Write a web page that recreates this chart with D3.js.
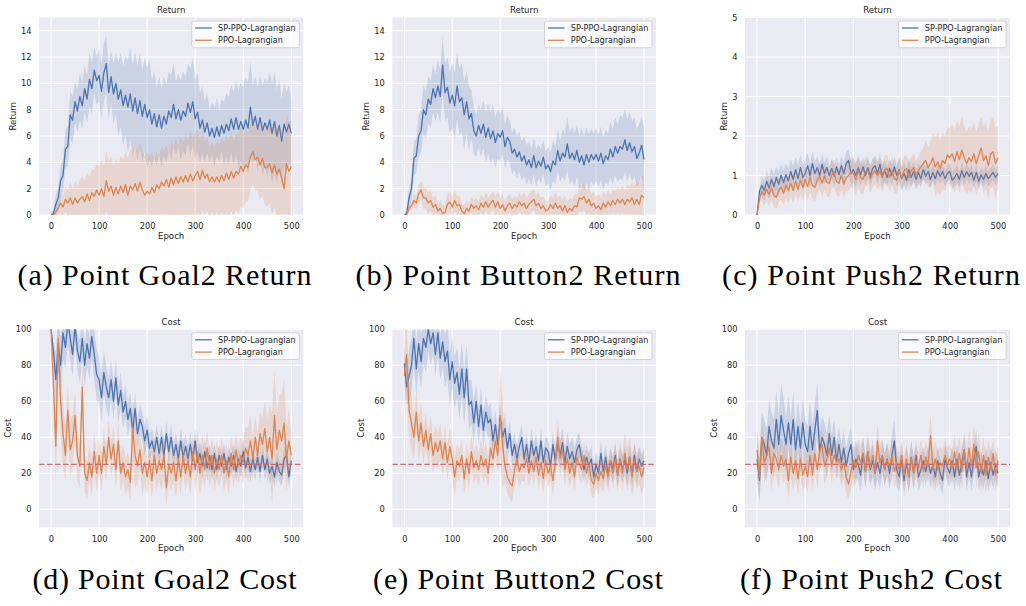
<!DOCTYPE html>
<html>
<head>
<meta charset="utf-8">
<script src="https://cdnjs.cloudflare.com/ajax/libs/d3/7.8.5/d3.min.js"></script>
<style>
  body { margin: 0; background: #fff; }
  svg { display: block; }
  .chart text { font-family: "DejaVu Sans", sans-serif; fill: #262626; }
</style>
</head>
<body>
<div class="chart"></div>
<script>
// Epoch grid (every 5 epochs) and ticks
var epochs = d3.range(0, 501, 5);
var xTicks = [0, 100, 200, 300, 400, 500];
var returnTicks = [0, 2, 4, 6, 8, 10, 12, 14];
var push2ReturnTicks = [0, 1, 2, 3, 4, 5];
var costTicks = [0, 20, 40, 60, 80, 100];
var costLimit = 25;
var seriesNames = ["SP-PPO-Lagrangian", "PPO-Lagrangian"];

// Means are read every 5 epochs, band half-widths every 10 epochs

// (a) Point Goal2 Return
var goal2ReturnSp = [0, 0.1, 0.8, 1.3, 2.6, 3.0, 5.0, 5.2, 7.6, 7.2,
  8.6, 7.9, 9.0, 8.3, 9.6, 8.8, 10.3, 9.6, 11.0, 10.2,
  10.6, 9.4, 10.8, 11.5, 9.3, 10.5, 9.2, 10.0, 8.8, 9.5,
  8.3, 9.1, 8.2, 9.2, 7.9, 8.9, 7.7, 8.7, 7.5, 8.4,
  7.4, 8.0, 6.9, 7.7, 6.7, 7.6, 6.6, 7.5, 6.9, 7.9,
  7.4, 8.4, 7.3, 8.0, 7.2, 7.9, 7.5, 8.5, 7.8, 8.6,
  7.3, 7.8, 6.6, 7.2, 6.3, 7.0, 6.0, 6.6, 5.9, 6.7,
  6.0, 6.8, 6.2, 6.9, 6.4, 7.3, 6.5, 7.4, 6.5, 7.1,
  6.5, 7.2, 6.6, 8.2, 6.8, 7.5, 6.5, 7.4, 6.4, 7.0,
  6.5, 7.2, 6.2, 7.1, 6.0, 6.8, 5.6, 6.9, 6.3, 6.9,
  6.2];
var goal2ReturnSpHw = [0.3, 0.8, 1.2, 1.5, 1.8, 1.6, 1.8, 1.8, 2.0, 1.8,
  2.0, 2.2, 2.0, 2.3, 2.8, 3.0, 3.5, 3.5, 3.6, 3.5,
  3.8, 3.3, 3.0, 3.0, 3.0, 3.2, 2.8, 3.0, 3.0, 3.3,
  3.0, 2.6, 2.3, 2.0, 2.2, 2.0, 2.4, 2.6, 2.8, 3.0,
  3.2, 3.5, 3.0, 3.2, 3.4, 3.6, 3.8, 3.5, 3.2, 3.0,
  2.6];
var goal2ReturnPpo = [0, 0, 0.2, 0.5, 0.9, 0.6, 1.2, 0.9, 1.3, 0.8,
  1.3, 0.9, 1.2, 1.4, 1.0, 1.6, 1.1, 1.7, 1.4, 1.9,
  1.5, 2.0, 1.4, 2.6, 1.8, 2.2, 1.5, 2.1, 1.6, 2.2,
  1.7, 2.3, 1.5, 2.2, 1.9, 2.4, 1.8, 2.5, 1.9, 1.5,
  1.8, 1.6, 2.1, 1.7, 2.3, 2.0, 2.5, 2.2, 2.7, 2.1,
  2.8, 2.3, 2.9, 2.4, 2.9, 2.5, 3.0, 2.5, 3.1, 2.6,
  3.0, 3.3, 2.7, 3.4, 2.8, 3.1, 2.5, 2.9, 2.5, 2.9,
  2.5, 3.0, 2.6, 3.2, 2.7, 3.3, 2.8, 3.3, 3.1, 3.7,
  3.3, 3.8, 3.6, 4.4, 4.8, 4.2, 4.4, 3.8, 4.3, 3.6,
  3.6, 3.9, 3.2, 3.8, 3.1, 3.5, 2.8, 2.0, 3.9, 3.3,
  3.7];
var goal2ReturnPpoHw = [0.1, 0.4, 0.8, 1.0, 1.2, 1.3, 1.5, 1.6, 1.8, 2.0,
  2.2, 2.3, 2.3, 2.2, 2.3, 2.5, 2.8, 3.0, 3.0, 3.0,
  2.9, 2.6, 2.5, 2.7, 2.6, 2.8, 2.9, 3.0, 3.2, 3.3,
  3.2, 3.0, 2.8, 2.7, 2.7, 2.8, 2.9, 3.0, 2.9, 3.0,
  2.8, 2.6, 2.4, 2.6, 2.8, 3.0, 3.2, 3.4, 3.6, 3.8,
  3.5];

// (b) Point Button2 Return
var button2ReturnSp = [0, 0.1, 1.3, 2.0, 4.3, 4.5, 6.0, 6.4, 8.0, 7.6,
  8.8, 8.4, 9.6, 8.9, 9.8, 9.0, 11.4, 9.3, 9.7, 8.5,
  9.1, 8.3, 9.8, 8.6, 8.9, 7.6, 8.6, 7.3, 7.7, 6.4,
  6.0, 6.8, 6.2, 6.9, 5.9, 6.6, 5.8, 6.4, 5.5, 6.2,
  5.9, 6.4, 5.2, 5.9, 5.6, 4.7, 5.0, 4.4, 4.8, 4.1,
  4.5, 3.8, 4.2, 3.6, 4.5, 3.6, 4.1, 3.7, 4.4, 3.5,
  3.8, 3.3, 4.1, 3.8, 4.9, 4.1, 4.7, 4.4, 5.4, 4.3,
  4.7, 4.2, 4.9, 4.0, 4.5, 3.8, 4.6, 4.0, 4.6, 4.2,
  4.6, 4.1, 4.7, 3.9, 4.5, 4.2, 5.0, 4.4, 5.2, 4.7,
  5.2, 5.0, 5.7, 4.9, 5.5, 4.8, 5.2, 4.3, 4.7, 5.3,
  4.2];
var button2ReturnSpHw = [0.2, 0.8, 1.3, 1.6, 1.8, 1.8, 1.8, 2.0, 2.2, 2.3,
  2.5, 2.5, 2.6, 2.4, 1.8, 1.6, 1.8, 1.9, 2.0, 1.9,
  1.8, 1.7, 1.6, 1.6, 1.5, 1.5, 1.4, 1.4, 1.3, 1.3,
  1.4, 1.5, 1.6, 1.8, 2.0, 2.0, 2.0, 2.1, 2.1, 2.0,
  2.0, 2.0, 2.0, 2.1, 2.2, 2.4, 2.4, 2.3, 2.2, 2.2,
  2.4];
var button2ReturnPpo = [0, 0, 0.5, 0.7, 1.1, 0.9, 1.6, 1.9, 1.3, 1.3,
  0.9, 1.1, 0.6, 0.8, 0.3, 0.5, 0.1, 0.2, 0.8, 1.0,
  0.6, 1.1, 0.7, 0.8, 0.3, 0.1, 0.5, 0.3, 0.8, 0.5,
  0.7, 0.4, 0.9, 0.6, 1.0, 0.6, 0.9, 1.1, 0.6, 1.0,
  0.5, 0.8, 0.3, 0.7, 0.9, 0.5, 0.8, 0.6, 1.0, 0.7,
  0.9, 0.5, 0.8, 1.0, 1.2, 0.7, 0.9, 0.5, 0.7, 0.3,
  0.4, 0.8, 0.5, 0.9, 0.5, 0.7, 0.3, 0.7, 0.2, 0.5,
  0.3, 0.7, 0.6, 1.3, 1.2, 1.4, 0.9, 1.2, 0.7, 0.9,
  0.5, 0.7, 0.4, 0.9, 0.6, 1.0, 0.7, 1.1, 0.8, 1.2,
  0.9, 1.2, 0.8, 1.2, 1.0, 1.3, 0.8, 1.2, 0.8, 1.5,
  1.3];
var button2ReturnPpoHw = [0.1, 0.3, 0.5, 0.7, 0.8, 0.8, 0.7, 0.6, 0.6, 0.8,
  0.8, 0.7, 0.6, 0.6, 0.6, 0.6, 0.7, 0.7, 0.7, 0.8,
  0.8, 0.7, 0.7, 0.7, 0.7, 0.8, 0.8, 0.8, 0.8, 0.7,
  0.7, 0.8, 0.8, 0.8, 0.8, 0.9, 1.0, 1.0, 1.0, 0.9,
  0.9, 0.9, 0.9, 0.9, 1.0, 1.0, 1.1, 1.2, 1.4, 1.6,
  1.6];

// (c) Point Push2 Return
var push2ReturnSp = [0, 0.6, 0.75, 0.62, 0.85, 0.68, 0.9, 0.72, 0.95, 0.78,
  1.0, 0.82, 1.02, 0.86, 1.1, 0.9, 1.15, 0.92, 1.2, 0.95,
  1.05, 1.25, 1.0, 1.3, 1.05, 1.2, 1.0, 1.28, 1.05, 1.2,
  1.0, 1.18, 0.98, 1.22, 1.02, 1.25, 1.05, 1.3, 1.38, 1.05,
  1.15, 1.0, 1.2, 1.02, 1.22, 1.0, 1.2, 0.98, 1.18, 1.25,
  1.05, 1.28, 0.98, 1.12, 0.95, 1.18, 1.0, 1.22, 1.0, 1.15,
  0.92, 1.05, 0.88, 1.15, 0.95, 1.1, 0.9, 1.08, 0.92, 1.15,
  0.98, 1.1, 0.9, 1.08, 0.92, 1.12, 0.98, 1.1, 0.92, 1.05,
  1.1, 0.88, 0.95, 1.05, 0.9, 1.12, 0.95, 1.1, 0.98, 1.08,
  0.88, 1.08, 0.85, 1.02, 0.9, 1.05, 0.92, 1.0, 1.08, 0.95,
  1.05];
var push2ReturnSpHw = [0.05, 0.25, 0.28, 0.3, 0.3, 0.3, 0.3, 0.32, 0.32, 0.33,
  0.33, 0.3, 0.3, 0.28, 0.28, 0.25, 0.25, 0.25, 0.28, 0.3,
  0.3, 0.28, 0.25, 0.25, 0.25, 0.28, 0.28, 0.25, 0.25, 0.28,
  0.3, 0.28, 0.25, 0.25, 0.22, 0.22, 0.22, 0.2, 0.2, 0.2,
  0.22, 0.22, 0.2, 0.2, 0.2, 0.2, 0.2, 0.2, 0.2, 0.2,
  0.2];
var push2ReturnPpo = [0, 0.4, 0.6, 0.5, 0.65, 0.52, 0.68, 0.5, 0.45, 0.62,
  0.7, 0.55, 0.75, 0.62, 0.8, 0.62, 0.85, 0.65, 0.88, 0.7,
  0.9, 0.72, 0.95, 0.75, 0.7, 0.88, 0.98, 0.8, 1.0, 0.82,
  0.8, 1.02, 1.05, 0.85, 0.8, 1.0, 0.78, 0.95, 1.0, 1.1,
  1.05, 0.9, 1.12, 0.95, 0.9, 1.1, 1.12, 0.92, 1.05, 1.12,
  1.0, 1.1, 0.95, 1.15, 1.18, 0.95, 1.12, 0.92, 0.88, 1.12,
  0.95, 1.12, 1.18, 0.95, 1.12, 1.2, 1.02, 1.12, 1.22, 1.3,
  1.38, 1.2, 1.3, 1.45, 1.22, 1.35, 1.18, 1.38, 1.3, 1.52,
  1.45, 1.55, 1.35, 1.6, 1.4, 1.65, 1.45, 1.3, 1.45, 1.35,
  1.55, 1.3, 1.5, 1.7, 1.38, 1.5, 1.25, 1.55, 1.6, 1.3,
  1.45];
var push2ReturnPpoHw = [0.05, 0.25, 0.3, 0.3, 0.3, 0.3, 0.32, 0.32, 0.32, 0.35,
  0.35, 0.35, 0.35, 0.35, 0.35, 0.35, 0.35, 0.35, 0.35, 0.38,
  0.4, 0.4, 0.38, 0.35, 0.35, 0.35, 0.35, 0.35, 0.35, 0.35,
  0.35, 0.35, 0.35, 0.35, 0.4, 0.5, 0.6, 0.75, 0.7, 0.7,
  0.75, 0.8, 0.85, 0.8, 0.8, 0.8, 0.8, 0.85, 0.85, 0.9,
  0.8];

// (d) Point Goal2 Cost
var goal2CostSp = [100, 88, 72, 92, 80, 98, 90, 104, 95, 86,
  102, 88, 82, 95, 80, 92, 84, 96, 86, 75,
  72, 62, 76, 68, 62, 72, 60, 73, 58, 66,
  54, 60, 50, 56, 44, 56, 42, 50, 46, 38,
  44, 34, 38, 32, 40, 31, 40, 30, 42, 32,
  40, 30, 36, 28, 38, 29, 35, 28, 36, 27,
  38, 26, 31, 24, 32, 23, 30, 22, 31, 22,
  30, 24, 31, 22, 29, 24, 30, 21, 28, 24,
  32, 23, 29, 21, 28, 22, 29, 21, 30, 22,
  28, 20, 24, 18, 26, 21, 19, 28, 30, 18,
  27];
var goal2CostSpHw = [5, 15, 15, 12, 12, 10, 12, 12, 12, 14,
  13, 12, 11, 10, 10, 9, 9, 9, 8, 8,
  8, 7, 7, 7, 7, 7, 7, 7, 7, 7,
  7, 7, 7, 6, 6, 6, 6, 6, 6, 6,
  6, 6, 6, 6, 6, 6, 6, 6, 6, 6,
  6];
var goal2CostPpo = [100, 70, 35, 95, 60, 42, 30, 55, 33, 38,
  52, 30, 24, 68, 20, 16, 26, 18, 32, 20,
  30, 20, 35, 25, 40, 28, 36, 22, 38, 20,
  26, 18, 22, 15, 45, 30, 24, 33, 20, 26,
  18, 27, 16, 30, 20, 27, 22, 30, 12, 25,
  20, 26, 16, 28, 18, 30, 20, 27, 18, 32,
  22, 32, 20, 30, 22, 34, 22, 30, 20, 28,
  22, 30, 20, 27, 18, 31, 22, 33, 24, 30,
  26, 34, 30, 38, 28, 40, 30, 42, 36, 45,
  32, 40, 28, 52, 33, 44, 38, 48, 28, 38,
  30];
var goal2CostPpoHw = [10, 20, 18, 15, 15, 14, 12, 10, 10, 10,
  10, 10, 10, 10, 10, 10, 10, 18, 10, 12,
  10, 10, 10, 12, 10, 10, 10, 10, 10, 10,
  12, 12, 10, 10, 10, 10, 10, 10, 10, 10,
  12, 15, 12, 12, 15, 18, 25, 20, 25, 18,
  12];

// (e) Point Button2 Cost
var button2CostSp = [81, 68, 74, 80, 95, 78, 92, 82, 95, 90,
  100, 92, 98, 86, 98, 84, 93, 82, 88, 72,
  82, 70, 76, 64, 78, 62, 78, 58, 60, 48,
  60, 46, 58, 44, 54, 48, 50, 38, 47, 36,
  51, 40, 45, 34, 42, 30, 36, 28, 35, 40,
  28, 36, 26, 38, 30, 35, 27, 38, 26, 34,
  32, 24, 36, 27, 36, 30, 37, 26, 35, 28,
  32, 26, 33, 36, 28, 22, 29, 24, 28, 18,
  25, 20, 31, 21, 29, 19, 27, 22, 30, 19,
  28, 22, 28, 20, 29, 19, 30, 21, 28, 24,
  27];
var button2CostSpHw = [10, 15, 15, 15, 14, 12, 12, 12, 14, 15,
  14, 14, 15, 14, 12, 10, 10, 9, 9, 8,
  8, 8, 7, 7, 7, 7, 7, 7, 7, 7,
  7, 7, 8, 8, 8, 8, 7, 7, 7, 7,
  7, 7, 7, 7, 7, 7, 7, 7, 7, 7,
  7];
var button2CostPpo = [74, 86, 55, 48, 40, 54, 38, 48, 35, 44,
  33, 42, 30, 37, 32, 38, 28, 37, 26, 35,
  28, 18, 27, 24, 30, 17, 28, 20, 32, 23,
  27, 22, 30, 24, 28, 20, 34, 28, 38, 30,
  52, 36, 24, 18, 15, 13, 22, 28, 21, 25,
  23, 28, 20, 27, 21, 29, 19, 26, 17, 27,
  20, 24, 16, 26, 40, 28, 33, 22, 28, 20,
  26, 18, 29, 25, 22, 30, 20, 26, 16, 14,
  20, 16, 21, 17, 24, 18, 27, 20, 28, 19,
  28, 20, 31, 22, 29, 18, 27, 21, 24, 18,
  23];
var button2CostPpoHw = [20, 15, 12, 12, 10, 10, 10, 10, 10, 10,
  10, 9, 9, 9, 9, 9, 9, 9, 9, 9,
  25, 9, 9, 9, 9, 8, 8, 8, 8, 8,
  8, 8, 10, 9, 8, 8, 8, 8, 8, 8,
  8, 8, 8, 8, 9, 10, 12, 12, 10, 10,
  10];

// (f) Point Push2 Cost
var push2CostSp = [28, 16, 40, 36, 30, 46, 38, 34, 50, 36,
  52, 44, 36, 48, 36, 50, 33, 46, 34, 48,
  36, 32, 46, 33, 44, 55, 32, 40, 36, 30,
  42, 30, 40, 27, 36, 26, 34, 24, 31, 36,
  22, 28, 25, 19, 31, 21, 32, 22, 27, 20,
  26, 20, 29, 22, 28, 20, 30, 38, 22, 18,
  28, 16, 26, 18, 29, 20, 30, 18, 22, 27,
  21, 27, 20, 25, 18, 27, 20, 16, 28, 23,
  20, 27, 18, 28, 19, 26, 33, 18, 26, 18,
  28, 35, 18, 24, 19, 27, 17, 26, 19, 25,
  20];
var push2CostSpHw = [12, 14, 15, 16, 16, 18, 15, 15, 14, 14,
  14, 14, 15, 12, 12, 11, 10, 10, 10, 10,
  10, 9, 9, 9, 9, 9, 9, 9, 12, 9,
  9, 9, 9, 8, 8, 8, 8, 8, 8, 8,
  8, 8, 8, 8, 8, 9, 8, 8, 8, 8,
  8];
var push2CostPpo = [33, 18, 40, 26, 30, 35, 20, 31, 28, 22,
  30, 24, 28, 16, 29, 20, 27, 17, 28, 19,
  24, 18, 30, 19, 31, 22, 32, 36, 24, 28,
  34, 24, 30, 26, 28, 22, 26, 18, 14, 21,
  27, 23, 30, 26, 31, 21, 32, 23, 30, 20,
  38, 26, 30, 22, 28, 24, 30, 21, 26, 22,
  30, 19, 28, 18, 29, 20, 27, 23, 30, 21,
  29, 24, 41, 22, 28, 22, 26, 24, 30, 25,
  28, 23, 32, 22, 31, 21, 33, 23, 34, 24,
  36, 23, 32, 20, 30, 19, 29, 22, 31, 19,
  27];
var push2CostPpoHw = [12, 12, 11, 10, 10, 10, 10, 10, 9, 9,
  9, 9, 10, 10, 10, 10, 9, 9, 9, 9,
  9, 9, 9, 9, 9, 10, 9, 9, 9, 9,
  9, 9, 9, 9, 9, 9, 12, 10, 9, 9,
  9, 10, 10, 10, 10, 11, 11, 10, 10, 9,
  9];

var colors = ["#4C72B0", "#DD8452"];

var panels = [
  { col: 0, row: 0, title: "Return", yDomain: [0, 15], yTicks: returnTicks,
    caption: "(a) Point Goal2 Return", capWidth: 294,
    series: [[goal2ReturnSp, goal2ReturnSpHw], [goal2ReturnPpo, goal2ReturnPpoHw]] },
  { col: 1, row: 0, title: "Return", yDomain: [0, 15], yTicks: returnTicks,
    caption: "(b) Point Button2 Return", capWidth: 325,
    series: [[button2ReturnSp, button2ReturnSpHw], [button2ReturnPpo, button2ReturnPpoHw]] },
  { col: 2, row: 0, title: "Return", yDomain: [0, 5], yTicks: push2ReturnTicks,
    caption: "(c) Point Push2 Return", capWidth: 298,
    series: [[push2ReturnSp, push2ReturnSpHw], [push2ReturnPpo, push2ReturnPpoHw]] },
  { col: 0, row: 1, title: "Cost", yDomain: [-10, 100], yTicks: costTicks, limit: costLimit,
    caption: "(d) Point Goal2 Cost", capWidth: 264,
    series: [[goal2CostSp, goal2CostSpHw], [goal2CostPpo, goal2CostPpoHw]] },
  { col: 1, row: 1, title: "Cost", yDomain: [-10, 100], yTicks: costTicks, limit: costLimit,
    caption: "(e) Point Button2 Cost", capWidth: 290,
    series: [[button2CostSp, button2CostSpHw], [button2CostPpo, button2CostPpoHw]] },
  { col: 2, row: 1, title: "Cost", yDomain: [-10, 100], yTicks: costTicks, limit: costLimit,
    caption: "(f) Point Push2 Cost", capWidth: 262,
    series: [[push2CostSp, push2CostSpHw], [push2CostPpo, push2CostPpoHw]] }
];

// layout of the 3x2 grid
var colLeft = [39, 392.3, 745];
var colRight = [303.3, 656, 1010];
var rowTop = [17.5, 329.3];
var rowBottom = [215, 527.3];
var captionX = [164.5, 518, 871];
var captionY = [285, 589];

var svg = d3.select(".chart")
  .append("svg")
  .attr("width", 1026)
  .attr("height", 606);

panels.forEach(function(p, idx) {
  var left = colLeft[p.col], top = rowTop[p.row];
  var width = colRight[p.col] - left;
  var height = rowBottom[p.row] - top;

  var g = svg.append("g")
    .attr("transform", `translate(${left}, ${top})`);

  var xScale = d3.scaleLinear().domain([-25, 525]).range([0, width]);
  var yScale = d3.scaleLinear().domain(p.yDomain).range([height, 0]);

  // background + white grid
  g.append("rect")
    .attr("width", width)
    .attr("height", height)
    .attr("fill", "#EAEAF2");

  g.selectAll("line.vgrid")
    .data(xTicks)
    .enter()
    .append("line")
    .attr("x1", d => xScale(d)).attr("x2", d => xScale(d))
    .attr("y1", 0).attr("y2", height)
    .attr("stroke", "#fff").attr("stroke-width", 1.1);

  g.selectAll("line.hgrid")
    .data(p.yTicks)
    .enter()
    .append("line")
    .attr("x1", 0).attr("x2", width)
    .attr("y1", d => yScale(d)).attr("y2", d => yScale(d))
    .attr("stroke", "#fff").attr("stroke-width", 1.1);

  // axes (text only)
  var bottomAxis = d3.axisBottom(xScale).tickValues(xTicks).tickSize(0).tickPadding(8.4)
    .tickFormat(d3.format("d"));
  var xAxis = g.append("g")
    .attr("transform", `translate(0, ${height})`)
    .call(bottomAxis);
  xAxis.select(".domain").remove();
  xAxis.selectAll("text").style("font-size", "8.3px").attr("fill", "#262626");

  var leftAxis = d3.axisLeft(yScale).tickValues(p.yTicks).tickSize(0).tickPadding(7.5)
    .tickFormat(d3.format("d"));
  var yAxis = g.append("g").call(leftAxis);
  yAxis.select(".domain").remove();
  yAxis.selectAll("text").style("font-size", "8.3px").attr("fill", "#262626");

  var maxW = d3.max(yAxis.selectAll("text").nodes(), n => n.getComputedTextLength());

  g.append("text")
    .attr("x", width / 2)
    .attr("y", -4.6)
    .attr("text-anchor", "middle")
    .style("font-size", "8.6px")
    .text(p.title);

  g.append("text")
    .attr("x", width / 2)
    .attr("y", height + 24.2)
    .attr("text-anchor", "middle")
    .style("font-size", "8.6px")
    .text("Epoch");

  g.append("text")
    .attr("transform", `translate(${-7.5 - maxW - 8.2}, ${height / 2}) rotate(-90)`)
    .attr("dy", "0.36em")
    .attr("text-anchor", "middle")
    .style("font-size", "8.6px")
    .text(p.title);

  // data layer
  var clipId = "clip" + idx;
  g.append("clipPath").attr("id", clipId)
    .append("rect").attr("width", width).attr("height", height);
  var plot = g.append("g").attr("clip-path", `url(#${clipId})`);

  p.series.forEach(function(s, k) {
    var mean = s[0], hw = s[1];
    var area = d3.area()
      .x((d, i) => xScale(epochs[i]))
      .y0((d, i) => yScale(d - hw[i >> 1]))
      .y1((d, i) => yScale(d + hw[i >> 1]));
    var line = d3.line()
      .x((d, i) => xScale(epochs[i]))
      .y(d => yScale(d));

    plot.append("path")
      .datum(mean)
      .attr("d", area)
      .attr("fill", colors[k])
      .attr("fill-opacity", 0.2);

    plot.append("path")
      .datum(mean)
      .attr("d", line)
      .attr("fill", "none")
      .attr("stroke", colors[k])
      .attr("stroke-width", 1.3)
      .attr("stroke-linejoin", "round");
  });

  if (p.limit !== undefined) {
    plot.append("line")
      .attr("x1", 0).attr("x2", width)
      .attr("y1", yScale(p.limit)).attr("y2", yScale(p.limit))
      .attr("stroke", "#d65f5f")
      .attr("stroke-opacity", 0.9)
      .attr("stroke-width", 1.3)
      .attr("stroke-dasharray", "5.5,2.5");
  }

  // legend
  var legW = 107.5, legH = 26.7;
  var legend = g.append("g")
    .attr("transform", `translate(${width - 4 - legW}, 3.5)`);
  legend.append("rect")
    .attr("width", legW).attr("height", legH)
    .attr("rx", 2)
    .attr("fill", "#fff").attr("fill-opacity", 0.8)
    .attr("stroke", "#cccccc").attr("stroke-width", 0.8);
  seriesNames.forEach(function(name, k) {
    var ly = 7 + k * 12.3;
    legend.append("line")
      .attr("x1", 3.3).attr("x2", 20)
      .attr("y1", ly).attr("y2", ly)
      .attr("stroke", colors[k]).attr("stroke-width", 1.3);
    legend.append("text")
      .attr("x", 26.3).attr("y", ly)
      .attr("dy", "0.35em")
      .style("font-size", "8.1px")
      .text(name);
  });

  // caption under the subplot
  svg.append("text")
    .attr("x", captionX[p.col])
    .attr("y", captionY[p.row])
    .attr("text-anchor", "middle")
    .attr("textLength", p.capWidth)
    .attr("lengthAdjust", "spacing")
    .style("font-family", "'Liberation Serif', 'Times New Roman', serif")
    .style("font-size", "30px")
    .style("fill", "#000")
    .text(p.caption);
});
</script>
</body>
</html>
